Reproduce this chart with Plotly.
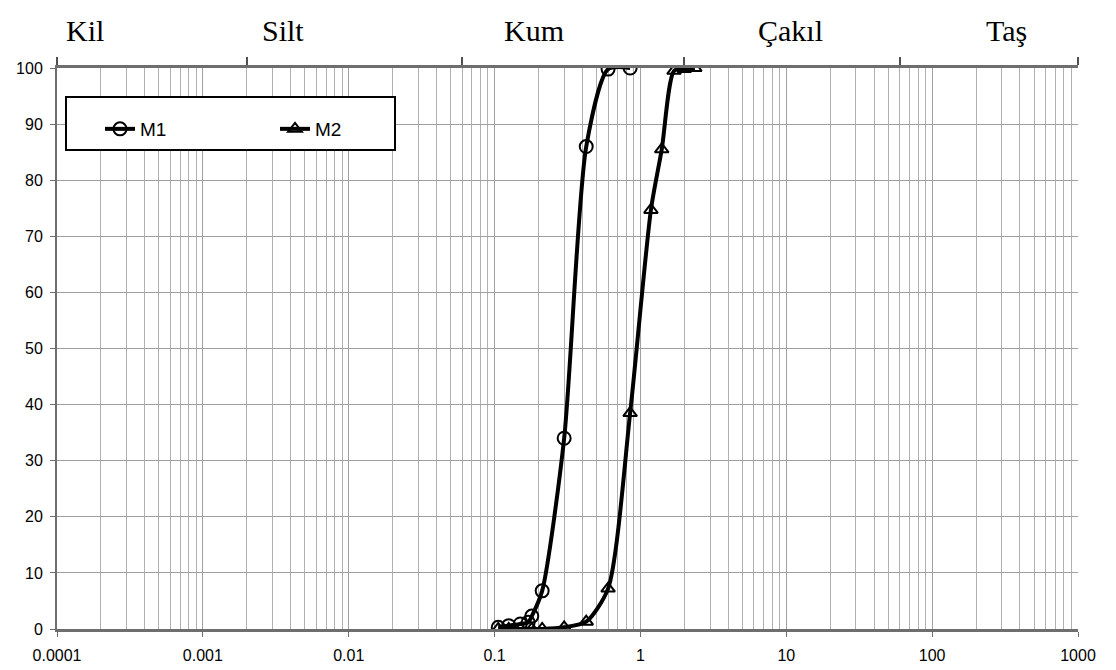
import plotly.graph_objects as go
import math

# ---- data ----
m1_size = [0.106, 0.125, 0.15, 0.17, 0.18, 0.212, 0.3, 0.425, 0.6, 0.85]
m1_pass = [0.3, 0.6, 0.9, 1.2, 2.3, 6.8, 34.0, 86.0, 99.8, 100.0]

m2_size = [0.106, 0.125, 0.15, 0.18, 0.212, 0.3, 0.425, 0.6, 0.85, 1.18, 1.4, 1.7, 2.0, 2.36]
m2_pass = [0.0, 0.0, 0.0, 0.0, 0.0, 0.3, 1.3, 7.2, 38.5, 74.7, 85.5, 99.5, 99.8, 100.0]

x_tick_vals = [0.0001, 0.001, 0.01, 0.1, 1, 10, 100, 1000]
x_tick_text = ["0.0001", "0.001", "0.01", "0.1", "1", "10", "100", "1000"]
class_bounds = [0.0001, 0.002, 0.06, 2, 60, 1000]
class_names = ["Kil", "Silt", "Kum", "Çakıl", "Taş"]
class_label_at = [0.000155, 0.00354, 0.186, 10.7, 324]

# page body adds an 8px offset; figure is sized so the plot area lands at 57..1078 x 68..629
W, H = 1108, 662
L, R, T, B = 49, 38, 60, 41
OFF = 8

fig = go.Figure()
fig.add_trace(go.Scatter(
    x=m1_size, y=m1_pass, name="M1", mode="lines+markers",
    line=dict(color="black", width=4, shape="spline", smoothing=0.7),
    marker=dict(symbol="circle-open", size=13, color="black", line=dict(width=2)),
))
fig.add_trace(go.Scatter(
    x=m2_size, y=m2_pass, name="M2", mode="lines+markers",
    line=dict(color="black", width=4, shape="spline", smoothing=0.7),
    marker=dict(symbol="triangle-up-open", size=12, color="black", line=dict(width=2)),
))
fig.add_trace(go.Scatter(
    x=class_bounds, y=[100] * len(class_bounds), xaxis="x2", mode="markers",
    marker=dict(opacity=0), showlegend=False, hoverinfo="skip",
))

pw, ph = W - L - R, H - T - B
for name, pos in zip(class_names, class_label_at):
    fig.add_annotation(
        x=math.log10(pos), xref="x", y=1 + 38 / ph, yref="paper",
        text=name, showarrow=False, xanchor="center", yanchor="middle",
        font=dict(family="Liberation Serif", size=30, color="black"),
    )

# legend box (page pixel coords)
lx0, ly0, lx1, ly1 = 66, 97, 395, 150
px0, py0 = L + OFF, T + OFF
fig.add_shape(type="rect", xref="paper", yref="paper",
              x0=(lx0 - px0) / pw, x1=(lx1 - px0) / pw,
              y0=1 - (ly1 - py0) / ph, y1=1 - (ly0 - py0) / ph,
              line=dict(color="black", width=2), fillcolor="white", layer="above")

fig.update_layout(
    width=W, height=H,
    margin=dict(l=L, r=R, t=T, b=B, pad=0, autoexpand=False),
    paper_bgcolor="white", plot_bgcolor="white",
    font=dict(family="Liberation Sans, Arial", size=15, color="black"),
    showlegend=True,
    legend=dict(
        orientation="h", x=(100 - px0) / pw, y=1 - (110 - py0) / ph,
        xanchor="left", yanchor="top",
        bgcolor="rgba(0,0,0,0)", borderwidth=0,
        font=dict(family="Liberation Sans, Arial", size=19, color="black"),
        entrywidth=130, entrywidthmode="pixels",
    ),
    xaxis=dict(
        type="log", range=[-4, 3], automargin=False,
        tickmode="array", tickvals=x_tick_vals, ticktext=x_tick_text,
        showgrid=True, gridcolor="#a0a0a0", gridwidth=1,
        minor=dict(dtick="D1", showgrid=True, gridcolor="#b0b0b0", gridwidth=1, ticks=""),
        showline=True, linecolor="#6e6e6e", linewidth=2.5,
        ticks="outside", ticklen=5, tickcolor="#6e6e6e",
        tickfont=dict(size=16), zeroline=False, ticklabelstandoff=5,
    ),
    xaxis2=dict(
        type="log", range=[-4, 3], overlaying="x", side="top", automargin=False,
        tickmode="array", tickvals=class_bounds, showticklabels=False,
        ticks="outside", ticklen=8, tickcolor="#505050", tickwidth=1.5,
        showline=True, linecolor="#6e6e6e", linewidth=3, showgrid=False,
    ),
    yaxis=dict(
        range=[0, 100], dtick=10, tick0=0, automargin=False,
        showgrid=True, gridcolor="#a0a0a0", gridwidth=1,
        showline=True, linecolor="#6e6e6e", linewidth=2,
        ticks="outside", ticklen=5, tickcolor="#6e6e6e",
        tickfont=dict(size=16), zeroline=False, ticklabelstandoff=4,
    ),
)

fig.write_html("out.html")
